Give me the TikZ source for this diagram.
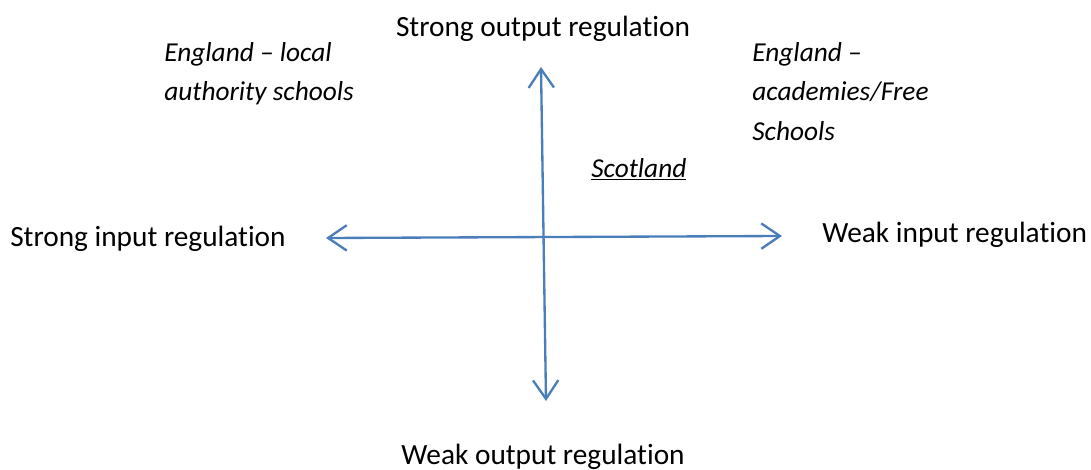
\documentclass[tikz,border=0pt]{standalone}
\usepackage{fontspec}
\setmainfont{Carlito}[Ligatures=NoCommon]
\usetikzlibrary{arrows.meta}
\definecolor{axisblue}{HTML}{4A7EBB}
\begin{document}
\begin{tikzpicture}[x=0.75pt,y=-0.75pt,
  axis/.style={draw=axisblue,line width=1.75pt,{Straight Barb[length=14pt,width=19pt,line width=1.75pt]}-{Straight Barb[length=14pt,width=19pt,line width=1.75pt]}},
  big/.style={font=\fontsize{22}{26}\selectfont,inner sep=0pt},
  quad/.style={font=\fontsize{20.5}{29.7}\selectfont\itshape,inner sep=0pt,align=left,anchor=north west}]
\useasboundingbox (0,0) rectangle (1091,470);
\coordinate (L) at (326,238);
\coordinate (R) at (782,236);
\coordinate (T) at (541,67);
\coordinate (B) at (546,401);
\draw[axis] (L) -- (R);
\draw[axis] (T) -- (B);
\node[big] (so) at (543,29) {Strong output regulation};
\node[big] (wo) at (543,457) {Weak output regulation};
\node[big,anchor=west] (si) at (10,239) {Strong input regulation};
\node[big,anchor=west] (wi) at (822,235) {Weak input regulation};
\node[quad] (ela) at (164,42) {England – local\\authority schools};
\node[quad] (eaf) at (752,42) {England –\\academies/Free\\Schools};
\node[quad,anchor=west] (sc) at (591,169) {\underline{Scotland}};
\end{tikzpicture}
\end{document}
